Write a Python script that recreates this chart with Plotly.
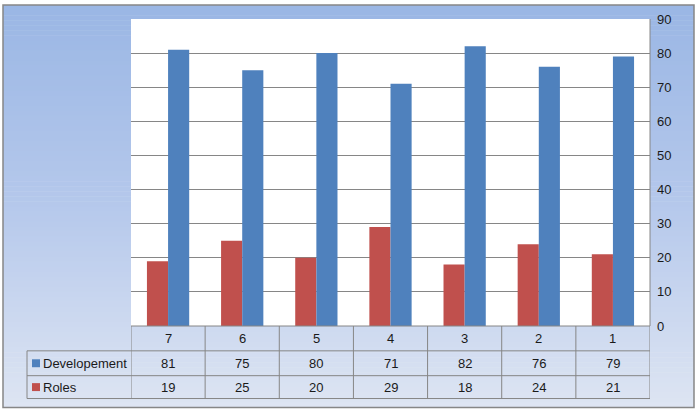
import plotly.graph_objects as go

categories = ["7", "6", "5", "4", "3", "2", "1"]
developement = [81, 75, 80, 71, 82, 76, 79]
roles = [19, 25, 20, 29, 18, 24, 21]
series_names = ["Developement", "Roles"]
y_ticks = list(range(0, 91, 10))

W, H = 696, 414
ML, MR, MT, MB = 131, 46, 17, 88
PW = W - ML - MR
PH = H - MT - MB

BLUE = "#4F81BD"
RED = "#C0504D"
GRID = "#868686"
FONT = "Liberation Sans"
FS = 13

def px_x(px):
    return (px - ML) / PW

def px_y(py):
    return (H - MB - py) / PH

fig = go.Figure()
fig.add_trace(go.Bar(x=categories, y=roles, name="Roles", marker_color=RED, marker_line_width=0))
fig.add_trace(go.Bar(x=categories, y=developement, name="Developement", marker_color=BLUE, marker_line_width=0))

shapes = []
# gradient background
top = (155, 183, 229)
mid = (182, 201, 236)
bot = (222, 229, 243)
x0, x1, y0, y1 = 3, 694, 3, 408
n = 80
for i in range(n):
    t = i / (n - 1)
    if t < 0.5:
        u = t / 0.5
        c = tuple(int(top[k] + (mid[k] - top[k]) * u) for k in range(3))
    else:
        u = (t - 0.5) / 0.5
        c = tuple(int(mid[k] + (bot[k] - mid[k]) * u) for k in range(3))
    ya = y0 + (y1 - y0) * i / n
    yb = y0 + (y1 - y0) * (i + 1) / n + 0.6
    shapes.append(dict(type="rect", xref="paper", yref="paper", layer="below",
                       x0=px_x(x0), x1=px_x(x1), y0=px_y(ya), y1=px_y(yb),
                       fillcolor="rgb(%d,%d,%d)" % c, line_width=0))
# white plot area
shapes.append(dict(type="rect", xref="paper", yref="paper", layer="below",
                   x0=0, x1=1, y0=0, y1=1, fillcolor="white", line_width=0))
# right border of plot area
shapes.append(dict(type="line", xref="paper", yref="paper", layer="above",
                   x0=1, x1=1, y0=0, y1=1, line=dict(color=GRID, width=1)))
# outer border
shapes.append(dict(type="rect", xref="paper", yref="paper", layer="above",
                   x0=px_x(3), x1=px_x(694), y0=px_y(3), y1=px_y(408),
                   line=dict(color="#878787", width=1.5), fillcolor="rgba(0,0,0,0)"))

# data table
row_y = [326, 351, 376, 399]
tab_left = 27
def hline(py, xa, xb):
    shapes.append(dict(type="line", xref="paper", yref="paper", layer="above",
                       x0=px_x(xa), x1=px_x(xb), y0=px_y(py), y1=px_y(py),
                       line=dict(color=GRID, width=1)))
def vline_paper(px, ya, yb):
    shapes.append(dict(type="line", xref="paper", yref="paper", layer="above",
                       x0=px_x(px), x1=px_x(px), y0=px_y(ya), y1=px_y(yb),
                       line=dict(color=GRID, width=1)))

hline(row_y[0], ML, ML + PW)
for py in row_y[1:]:
    hline(py, tab_left, ML + PW)
vline_paper(tab_left, row_y[1], row_y[3])
for k in range(len(categories) + 1):
    shapes.append(dict(type="line", xref="x", yref="paper", layer="above",
                       x0=k - 0.5, x1=k - 0.5, y0=px_y(row_y[0]), y1=px_y(row_y[3]),
                       line=dict(color=GRID, width=1)))

annotations = []
def cell_text(x, py, text):
    annotations.append(dict(x=x, y=px_y(py), xref="x", yref="paper", text=text,
                            showarrow=False, xanchor="center", yanchor="middle",
                            font=dict(family=FONT, size=FS, color="#1a1a1a")))

hdr_mid = (row_y[0] + row_y[1]) / 2
r1_mid = (row_y[1] + row_y[2]) / 2
r2_mid = (row_y[2] + row_y[3]) / 2
for i, c in enumerate(categories):
    cell_text(i, hdr_mid, c)
    cell_text(i, r1_mid, str(developement[i]))
    cell_text(i, r2_mid, str(roles[i]))

for name, col, ym in [(series_names[0], BLUE, r1_mid), (series_names[1], RED, r2_mid)]:
    shapes.append(dict(type="rect", xref="paper", yref="paper", layer="above",
                       x0=px_x(32), x1=px_x(40), y0=px_y(ym - 4), y1=px_y(ym + 4),
                       fillcolor=col, line_width=0))
    annotations.append(dict(x=px_x(41), y=px_y(ym), xref="paper", yref="paper", text=name,
                            showarrow=False, xanchor="left", yanchor="middle",
                            font=dict(family=FONT, size=FS, color="#1a1a1a")))

fig.update_layout(
    width=W, height=H,
    margin=dict(l=ML, r=MR, t=MT, b=MB, pad=0),
    paper_bgcolor="white",
    plot_bgcolor="rgba(0,0,0,0)",
    barmode="group",
    bargap=0.43,
    bargroupgap=0,
    showlegend=False,
    shapes=shapes,
    annotations=annotations,
    font=dict(family=FONT, size=FS, color="#1a1a1a"),
    xaxis=dict(type="category", categoryorder="array", categoryarray=categories,
               showticklabels=False, showgrid=False, zeroline=False, ticks="",
               range=[-0.5, len(categories) - 0.5], showline=False),
    yaxis=dict(side="right", range=[0, 90], tickvals=y_ticks, showgrid=True,
               gridcolor=GRID, gridwidth=1, zeroline=False, showline=False,
               ticks="", ticklen=0, ticklabelstandoff=6,
               tickfont=dict(family=FONT, size=FS, color="#1a1a1a")),
)

fig.write_html("out.html")
